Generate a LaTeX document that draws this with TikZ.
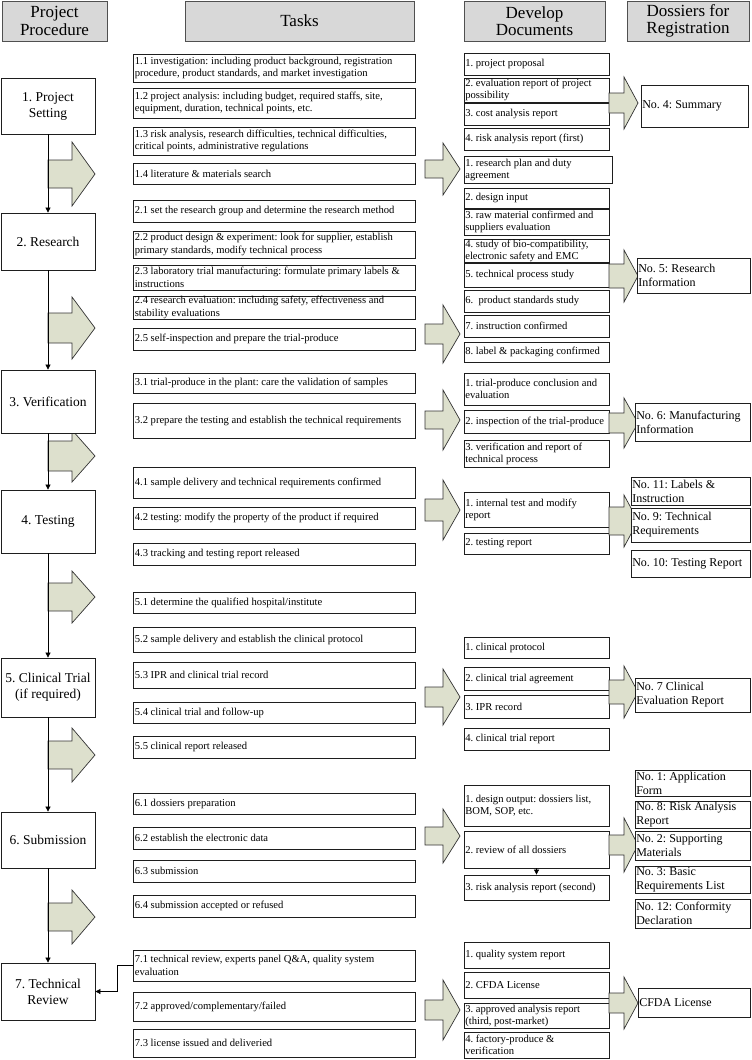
\documentclass[tikz,border=0pt]{standalone}
\usepackage{fontspec}
\setmainfont{Liberation Serif}
\usetikzlibrary{arrows.meta}
\definecolor{arrowfill}{RGB}{221,224,205}
\definecolor{headfill}{RGB}{216,216,216}
\definecolor{headdraw}{RGB}{80,80,80}
\definecolor{boxdraw}{RGB}{30,30,30}
% centred text box: style, name, x1, y1, x2, y2, text
\newcommand{\bxc}[7]{%
  \pgfmathsetmacro\bxw{#5-#3}\pgfmathsetmacro\bxh{#6-#4}%
  \node[#1, minimum width=\bxw pt, minimum height=\bxh pt] (#2) at ({(#3+#5)/2},{(#4+#6)/2}) {#7};}
% left-aligned text box: box style, text style, name, x1, y1, x2, y2, text
\newcommand{\bxl}[8]{%
  \pgfmathsetmacro\bxw{#6-#4}\pgfmathsetmacro\bxh{#7-#5}%
  \node[#1, minimum width=\bxw pt, minimum height=\bxh pt] (#3) at ({(#4+#6)/2},{(#5+#7)/2}) {};
  \node[#2, anchor=west] at (#3.west) {#8};}
\newcommand{\barr}[6]{%
  \draw[blockarrow] (#1,{#4-#5}) -- (#2,{#4-#5}) -- (#2,{#4-#6}) -- (#3,#4) -- (#2,{#4+#6}) -- (#2,{#4+#5}) -- (#1,{#4+#5}) -- cycle;}
\begin{document}
\frenchspacing
\begin{tikzpicture}[x=1pt,y=-1pt,
  header/.style={draw=headdraw, line width=0.9pt, fill=headfill, inner sep=0pt, align=center, font=\fontsize{17}{17.5}\selectfont},
  procbox/.style={draw=boxdraw, line width=0.8pt, fill=white, inner sep=1pt, align=center, font=\fontsize{13.5}{16}\selectfont},
  box/.style={draw=boxdraw, line width=0.8pt, fill=white, inner sep=0pt},
  tasktxt/.style={inner xsep=2pt, inner ysep=0pt, align=left, font=\fontsize{10.6}{12.5}\selectfont},
  doctxt/.style={inner xsep=1.5pt, inner ysep=0pt, align=left, font=\fontsize{10.6}{12}\selectfont},
  dostxt/.style={inner xsep=1.5pt, inner ysep=0pt, align=left, font=\fontsize{12}{14}\selectfont},
  blockarrow/.style={draw=black!80, line width=0.7pt, fill=arrowfill, line join=miter},
  flow/.style={draw=black, line width=0.7pt, -{Triangle[length=5pt,width=5pt]}}
]
\useasboundingbox (0,0) rectangle (752,1060);
% headers
\bxc{header}{h1}{2}{1}{107}{41}{Project\\Procedure}
\bxc{header}{h2}{185}{1}{414}{41}{Tasks}
\bxc{header}{h3}{464}{1}{605}{41}{Develop\\Documents}
\bxc{header}{h4}{627}{1}{749}{41}{Dossiers for\\Registration}
% col1 block arrows
\barr{48}{72}{95}{174}{14}{32}
\barr{48}{72}{95}{328}{15}{31}
\barr{48}{72}{95}{456}{15}{26}
\barr{48}{72}{95}{597}{14}{26}
\barr{48}{72}{95}{755}{14}{27}
\barr{48}{72}{95}{917}{14}{27}
% procedure boxes
\bxc{procbox}{p1}{1}{78}{95}{134}{1. Project\\Setting}
\bxc{procbox}{p2}{1}{213}{95}{270}{2. Research}
\bxc{procbox}{p3}{1}{370}{95}{433}{3. Verification}
\bxc{procbox}{p4}{1}{490}{95}{553}{4. Testing}
\bxc{procbox}{p5}{1}{658}{95}{717}{5. Clinical Trial\\(if required)}
\bxc{procbox}{p6}{1}{812}{95}{868}{6. Submission}
\bxc{procbox}{p7}{1}{963}{95}{1020}{7. Technical\\Review}
\draw[flow] (p1) -- (p2);
\draw[flow] (p2) -- (p3);
\draw[flow] (p3) -- (p4);
\draw[flow] (p4) -- (p5);
\draw[flow] (p5) -- (p6);
\draw[flow] (p6) -- (p7);
% tasks
\bxl{box}{tasktxt}{t11}{133}{54}{415}{82}{1.1 investigation: including product background, registration\\procedure, product standards, and market investigation}
\bxl{box}{tasktxt}{t12}{133}{88}{415}{118}{1.2 project analysis: including budget, required staffs, site,\\equipment, duration, technical points, etc.}
\bxl{box}{tasktxt}{t13}{133}{127}{415}{155}{1.3 risk analysis, research difficulties, technical difficulties,\\critical points, administrative regulations}
\bxl{box}{tasktxt}{t14}{133}{163}{415}{184}{1.4 literature \& materials search}
\bxl{box}{tasktxt}{t21}{133}{200}{415}{222}{2.1 set the research group and determine the research method}
\bxl{box}{tasktxt}{t22}{133}{231}{415}{258}{2.2 product design \& experiment: look for supplier, establish\\primary standards, modify technical process}
\bxl{box}{tasktxt}{t23}{133}{265}{415}{290}{2.3 laboratory trial manufacturing: formulate primary labels \&\\instructions}
\bxl{box}{tasktxt}{t24}{133}{296}{415}{319}{2.4 research evaluation: including safety, effectiveness and\\stability evaluations}
\bxl{box}{tasktxt}{t25}{133}{328}{415}{350}{2.5 self-inspection and prepare the trial-produce}
\bxl{box}{tasktxt}{t31}{133}{373}{415}{393}{3.1 trial-produce in the plant: care the validation of samples}
\bxl{box}{tasktxt}{t32}{133}{403}{415}{438}{3.2 prepare the testing and establish the technical requirements}
\bxl{box}{tasktxt}{t41}{133}{467}{415}{498}{4.1 sample delivery and technical requirements confirmed}
\bxl{box}{tasktxt}{t42}{133}{507}{415}{529}{4.2 testing: modify the property of the product if required}
\bxl{box}{tasktxt}{t43}{133}{543}{415}{565}{4.3 tracking and testing report released}
\bxl{box}{tasktxt}{t51}{133}{592}{415}{613}{5.1 determine the qualified hospital/institute}
\bxl{box}{tasktxt}{t52}{133}{627}{415}{652}{5.2 sample delivery and establish the clinical protocol}
\bxl{box}{tasktxt}{t53}{133}{662}{415}{688}{5.3 IPR and clinical trial record}
\bxl{box}{tasktxt}{t54}{133}{702}{415}{723}{5.4 clinical trial and follow-up}
\bxl{box}{tasktxt}{t55}{133}{736}{415}{758}{5.5 clinical report released}
\bxl{box}{tasktxt}{t61}{133}{793}{415}{814}{6.1 dossiers preparation}
\bxl{box}{tasktxt}{t62}{133}{827}{415}{849}{6.2 establish the electronic data}
\bxl{box}{tasktxt}{t63}{133}{860}{415}{882}{6.3 submission}
\bxl{box}{tasktxt}{t64}{133}{895}{415}{917}{6.4 submission accepted or refused}
\bxl{box}{tasktxt}{t71}{133}{950}{415}{981}{7.1 technical review, experts panel Q\&A, quality system\\evaluation}
\bxl{box}{tasktxt}{t72}{133}{992}{415}{1021}{7.2 approved/complementary/failed}
\bxl{box}{tasktxt}{t73}{133}{1029}{415}{1057}{7.3 license issued and deliveried}
\draw[flow] (t71.west) -- ++(-15,0) |- (p7.east);
% big arrows tasks -> docs
\barr{425}{443}{460}{169}{9}{26}
\barr{425}{443}{460}{334}{10}{29}
\barr{425}{443}{460}{420}{9}{30}
\barr{425}{443}{460}{510}{11}{30}
\barr{425}{443}{460}{697}{10}{28}
\barr{425}{443}{460}{836}{9}{27}
\barr{425}{443}{460}{1010}{10}{30}
% docs
\bxl{box}{doctxt}{d11}{464}{53}{609}{75}{1. project proposal}
\bxl{box}{doctxt}{d12}{464}{78}{609}{102}{2. evaluation report of project\\possibility}
\bxl{box}{doctxt}{d13}{464}{103}{609}{125}{3. cost analysis report}
\bxl{box}{doctxt}{d14}{464}{128}{609}{150}{4. risk analysis report (first)}
\bxl{box}{doctxt}{d21}{464}{156}{612}{183}{1. research plan and duty\\agreement}
\bxl{box}{doctxt}{d22}{464}{188}{609}{208}{2. design input}
\bxl{box}{doctxt}{d23}{464}{209}{609}{235}{3. raw material confirmed and\\suppliers evaluation}
\bxl{box}{doctxt}{d24}{464}{239}{609}{262}{4. study of bio-compatibility,\\electronic safety and EMC}
\bxl{box}{doctxt}{d25}{464}{263}{609}{287}{5. technical process study}
\bxl{box}{doctxt}{d26}{464}{290}{609}{312}{6.\ \ product standards study}
\bxl{box}{doctxt}{d27}{464}{315}{609}{337}{7. instruction confirmed}
\bxl{box}{doctxt}{d28}{464}{342}{609}{362}{8. label \& packaging confirmed}
\bxl{box}{doctxt}{d31}{464}{373}{609}{405}{1. trial-produce conclusion and\\evaluation}
\bxl{box}{doctxt}{d32}{464}{410}{609}{433}{2. inspection of the trial-produce}
\bxl{box}{doctxt}{d33}{464}{440}{609}{467}{3. verification and report of\\technical process}
\bxl{box}{doctxt}{d41}{464}{492}{609}{527}{1. internal test and modify\\report}
\bxl{box}{doctxt}{d42}{464}{533}{609}{554}{2. testing report}
\bxl{box}{doctxt}{d51}{464}{637}{609}{658}{1. clinical protocol}
\bxl{box}{doctxt}{d52}{464}{667}{609}{690}{2. clinical trial agreement}
\bxl{box}{doctxt}{d53}{464}{695}{609}{718}{3. IPR record}
\bxl{box}{doctxt}{d54}{464}{728}{609}{750}{4. clinical trial report}
\bxl{box}{doctxt}{d61}{464}{785}{609}{826}{1. design output: dossiers list,\\BOM, SOP, etc.}
\bxl{box}{doctxt}{d62}{464}{831}{609}{868}{2. review of all dossiers}
\bxl{box}{doctxt}{d63}{464}{875}{609}{900}{3. risk analysis report (second)}
\bxl{box}{doctxt}{d71}{464}{942}{609}{968}{1. quality system report}
\bxl{box}{doctxt}{d72}{464}{972}{609}{998}{2. CFDA License}
\bxl{box}{doctxt}{d73}{464}{1003}{609}{1028}{3. approved analysis report\\(third, post-market)}
\bxl{box}{doctxt}{d74}{464}{1032}{609}{1058}{4. factory-produce \&\\verification}
\draw[flow] (d62.south) -- (d63.north);
% arrows docs -> dossiers
\barr{609}{624}{638}{103}{10}{26}
\barr{609}{624}{638}{276}{12}{26}
\barr{609}{624}{638}{423}{10}{25}
\barr{609}{624}{638}{521}{14}{26}
\barr{609}{624}{638}{692}{12}{26}
\barr{609}{624}{638}{845}{10}{27}
\barr{609}{624}{638}{1003}{10}{26}
% dossiers
\bxl{box}{dostxt}{s4}{641}{85}{748}{127}{No. 4: Summary}
\bxl{box}{dostxt}{s5}{637}{258}{750}{293}{No. 5: Research\\Information}
\bxl{box}{dostxt}{s6}{635}{403}{750}{441}{No. 6: Manufacturing\\Information}
\bxl{box}{dostxt}{s11}{631}{477}{750}{505}{No. 11: Labels \&\\Instruction}
\bxl{box}{dostxt}{s9}{631}{508}{750}{542}{No. 9: Technical\\Requirements}
\bxl{box}{dostxt}{s10}{631}{550}{750}{577}{No. 10: Testing Report}
\bxl{box}{dostxt}{s7}{635}{678}{750}{712}{No. 7 Clinical\\Evaluation Report}
\bxl{box}{dostxt}{s1}{635}{770}{750}{796}{No. 1: Application\\Form}
\bxl{box}{dostxt}{s8}{635}{801}{750}{828}{No. 8: Risk Analysis\\Report}
\bxl{box}{dostxt}{s2}{635}{831}{750}{860}{No. 2: Supporting\\Materials}
\bxl{box}{dostxt}{s3}{635}{866}{750}{893}{No. 3: Basic\\Requirements List}
\bxl{box}{dostxt}{s12}{635}{899}{750}{928}{No. 12: Conformity\\Declaration}
\bxl{box}{dostxt}{sc}{638}{988}{750}{1017}{CFDA License}
\end{tikzpicture}
\end{document}
